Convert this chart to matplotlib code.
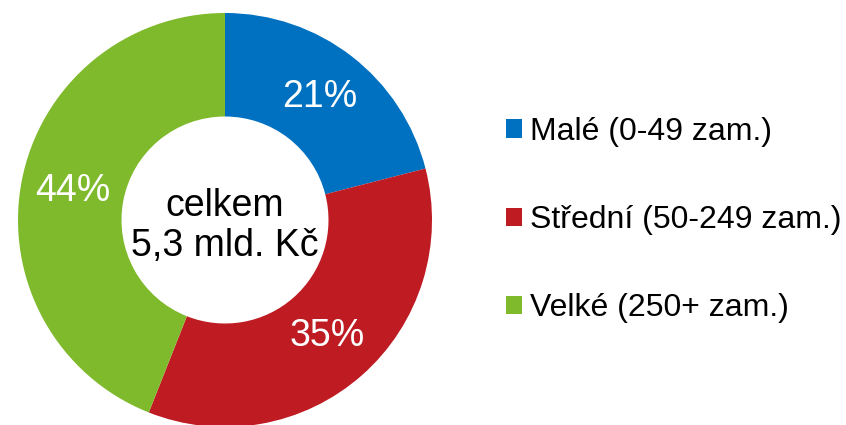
import matplotlib.pyplot as plt
from matplotlib.patches import Patch

plt.rcParams['font.family'] = ['Liberation Sans', 'DejaVu Sans']

kategorie = ['Malé (0-49 zam.)', 'Střední (50-249 zam.)', 'Velké (250+ zam.)']
podily = [21, 35, 44]
barvy = ['#0070C0', '#BE1B22', '#7FBA2C']
celkem = 'celkem\n5,3 mld. Kč'

fig = plt.figure(figsize=(8.46, 4.25), dpi=100)
ax = fig.add_axes([18/846, -2/425, 414/846, 414/425])

ax.pie(podily, colors=barvy, startangle=90, counterclock=False,
       radius=1.0, wedgeprops=dict(width=0.5, linewidth=0),
       autopct='%d%%', pctdistance=0.75,
       textprops=dict(color='white', fontsize=27))
ax.set_xlim(-1, 1)
ax.set_ylim(-1, 1)
ax.set_aspect('equal')
ax.text(0, -0.03, celkem, ha='center', va='center', fontsize=27,
        linespacing=1.15, color='black')

ruky = [Patch(facecolor=c, edgecolor='none') for c in barvy]
fig.legend(ruky, kategorie, loc='center left', bbox_to_anchor=(506/846, 1 - 220/425),
           frameon=False, fontsize=23, handlelength=0.5, handleheight=0.5,
           handletextpad=0.25, labelspacing=1.82, borderaxespad=0, borderpad=0)

fig.savefig('out.png', dpi=100)
